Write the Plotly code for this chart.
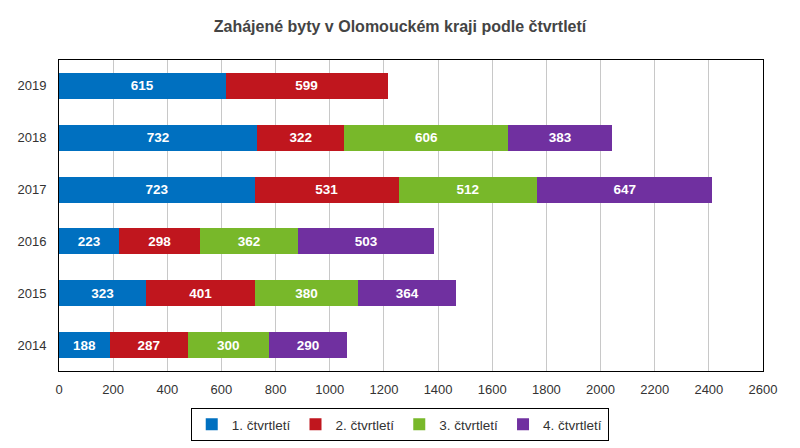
import plotly.graph_objects as go

years = ["2014", "2015", "2016", "2017", "2018", "2019"]
series_names = ["1. čtvrtletí", "2. čtvrtletí", "3. čtvrtletí", "4. čtvrtletí"]
q1 = [188, 323, 223, 723, 732, 615]
q2 = [287, 401, 298, 531, 322, 599]
q3 = [300, 380, 362, 512, 606, None]
q4 = [290, 364, 503, 647, 383, None]
colors = ["#0070C0", "#C0161E", "#78B82A", "#7030A0"]
x_ticks = list(range(0, 2601, 200))

fig = go.Figure()
for name, vals, col in zip(series_names, [q1, q2, q3, q4], colors):
    fig.add_trace(go.Bar(
        y=years, x=vals, name=name, orientation="h",
        marker=dict(color=col, line=dict(width=0)),
        text=vals, texttemplate="<b>%{x}</b>", textposition="inside",
        insidetextanchor="middle",
        textfont=dict(color="white", size=13.5, family="Liberation Sans, Arial"),
    ))

fig.update_layout(
    barmode="stack", bargap=0.5,
    width=800, height=448,
    margin=dict(l=59, r=37, t=60, b=77, autoexpand=False),
    paper_bgcolor="white", plot_bgcolor="white",
    font=dict(family="Liberation Sans, Arial", color="#333333"),
    title=dict(text="<b>Zahájené byty v Olomouckém kraji podle čtvrtletí</b>",
               x=0.5, xanchor="center", y=0.94, yanchor="middle",
               font=dict(size=16, color="#444444")),
    legend=dict(orientation="h", x=0.484, xanchor="center", y=-0.119, yanchor="top",
                bordercolor="black", borderwidth=1, font=dict(size=13.5, color="#333333"),
                traceorder="normal", itemwidth=30),
    xaxis=dict(range=[0, 2600], tickvals=x_ticks, showgrid=True, gridcolor="#C8C8C8",
               gridwidth=1, showline=True, linecolor="black", linewidth=1, mirror=True,
               ticks="", tickfont=dict(size=13), zeroline=False, automargin=False,
               ticklabelstandoff=6),
    yaxis=dict(categoryorder="array", categoryarray=years, showline=True, linecolor="black",
               linewidth=1, mirror=True, ticks="", tickfont=dict(size=13), automargin=False,
               ticklabelstandoff=9),
    uniformtext=dict(mode="show", minsize=8),
)

fig.write_html("out.html", config={"displayModeBar": False},
               post_script="document.body.style.margin='0';document.body.style.padding='0';")
